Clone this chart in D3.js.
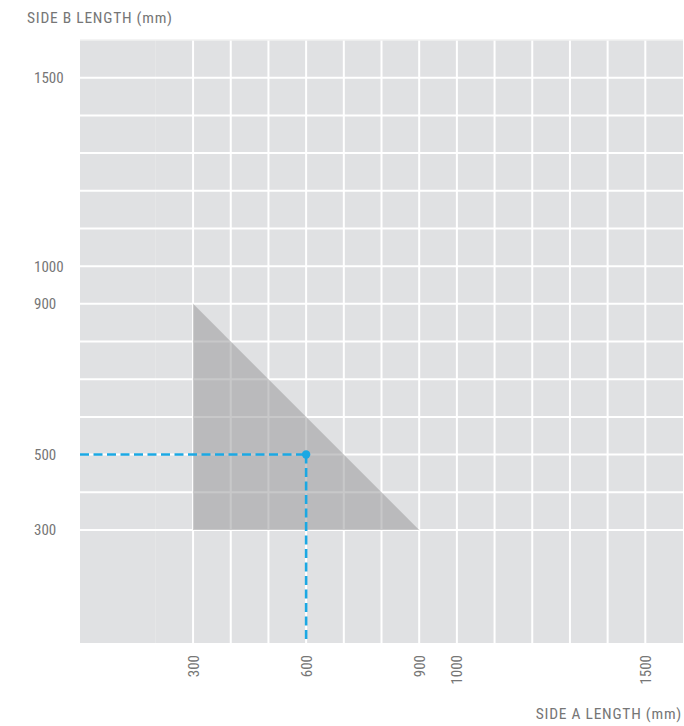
<!DOCTYPE html>
<html><head><meta charset="utf-8">
<script src="https://cdn.jsdelivr.net/npm/d3@7"></script>
<style>body{margin:0;background:#fff}svg{display:block}text{font-family:"Liberation Sans Narrow","Roboto Condensed","DejaVu Sans Condensed",Roboto,sans-serif;fill:#767676}</style>
</head><body>
<script>
const xTickLabels = [300, 600, 900, 1000, 1500];
const yTickLabels = [300, 500, 900, 1000, 1500];
const gridX = [300,400,500,600,700,800,900,1000,1100,1200,1300,1400,1500];
const gridY = [300,400,500,600,700,800,900,1000,1100,1200,1300,1400,1500];
const faintX = [200];
const regionA = [300, 300, 900];
const regionB = [300, 900, 300];
const pointA = [600];
const pointB = [500];

const W = 684, H = 726;
const svg = d3.select("body").append("svg").attr("width", W).attr("height", H);
const x = d3.scaleLinear().domain([0, 1600]).range([80, 683]);
const y = d3.scaleLinear().domain([0, 1600]).range([643, 40]);

svg.append("rect").attr("x", x(0)).attr("y", y(1600)).attr("width", x(1600)-x(0)).attr("height", y(0)-y(1600)).attr("fill", "#e0e1e3");

svg.selectAll(".fx").data(faintX).join("line").attr("x1", d=>x(d)).attr("x2", d=>x(d)).attr("y1", y(1600)).attr("y2", y(0)).attr("stroke", "#e5e6e7").attr("stroke-width", 1);
svg.selectAll(".gx").data(gridX).join("line").attr("x1", d=>x(d)).attr("x2", d=>x(d)).attr("y1", y(1600)).attr("y2", y(0)).attr("stroke", "#fff").attr("stroke-width", 2);
svg.selectAll(".gy").data(gridY).join("line").attr("x1", x(0)).attr("x2", x(1600)).attr("y1", d=>y(d)).attr("y2", d=>y(d)).attr("stroke", "#fff").attr("stroke-width", 2);
svg.append("line").attr("x1", x(0)).attr("x2", x(1600)).attr("y1", y(1600)).attr("y2", y(1600)).attr("stroke", "#f0f0f1").attr("stroke-width", 1.5);

const pts = regionA.map((a,i)=>[x(a), y(regionB[i])]);
svg.append("path").attr("d", d3.line()(pts) + "Z").attr("fill", "#9a9a9c").attr("fill-opacity", 0.55);

const blue = "#1ba8e3";
svg.append("line").attr("x1", x(0)).attr("x2", x(pointA[0])).attr("y1", y(pointB[0])).attr("y2", y(pointB[0]))
  .attr("stroke", blue).attr("stroke-width", 2.6).attr("stroke-dasharray", "9,4.5");
svg.append("line").attr("x1", x(pointA[0])).attr("x2", x(pointA[0])).attr("y1", y(pointB[0])).attr("y2", y(0))
  .attr("stroke", blue).attr("stroke-width", 2.6).attr("stroke-dasharray", "9,4.5");
svg.append("circle").attr("cx", x(pointA[0])).attr("cy", y(pointB[0])).attr("r", 4.2).attr("fill", blue);

svg.selectAll(".yl").data(yTickLabels).join("text").attr("x", 34).attr("y", d=>y(d)+5.5).attr("font-size", 15).text(d=>d);
svg.selectAll(".xl").data(xTickLabels).join("text")
  .attr("transform", d=>`translate(${x(d)+5.5},655) rotate(-90)`).attr("text-anchor", "end").attr("font-size", 15).text(d=>d);

svg.append("text").attr("x", 27).attr("y", 23).attr("font-size", 15.5).attr("letter-spacing", 0.75).text("SIDE B LENGTH (mm)");
svg.append("text").attr("x", 682).attr("y", 719).attr("text-anchor", "end").attr("font-size", 15.5).attr("letter-spacing", 0.75).text("SIDE A LENGTH (mm)");
</script>
</body></html>
